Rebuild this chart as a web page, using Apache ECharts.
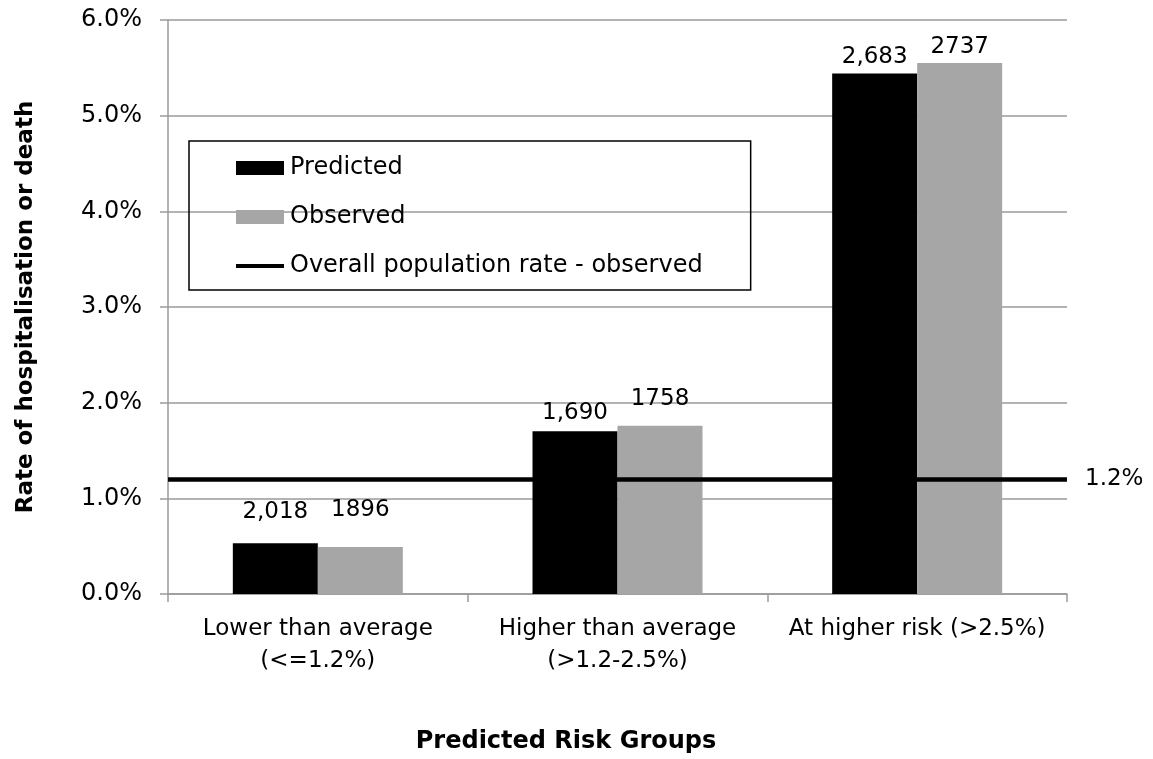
<!DOCTYPE html>
<html>
<head>
<meta charset="utf-8">
<script src="https://cdn.jsdelivr.net/npm/echarts@6/dist/echarts.min.js"></script>
<style>
  html, body { margin: 0; padding: 0; background: #ffffff; }
  #chart { width: 1153px; height: 759px; }
</style>
</head>
<body>
<div id="chart"></div>
<script>
// ---- Data ----
const categories = ['Lower than average\n(<=1.2%)', 'Higher than average\n(>1.2-2.5%)', 'At higher risk (>2.5%)'];
const predicted = [0.53, 1.70, 5.44];
const observed = [0.49, 1.76, 5.55];
const predictedLabels = ['2,018', '1,690', '2,683'];
const observedLabels = ['1896', '1758', '2737'];
const overallRate = 1.2;
const overallRateLabel = '1.2%';
const yTicks = { min: 0, max: 6, interval: 1 };

// ---- Styling ----
const FONT = 'DejaVu Sans';
const predLift = [20, 7, 5];
const obsLift = [26, 15, 5];

const chart = echarts.init(document.getElementById('chart'), null, { renderer: 'canvas' });

const option = {
  animation: false,
  backgroundColor: '#ffffff',
  textStyle: { fontFamily: FONT, color: '#000' },
  grid: { left: 168, right: 86, top: 20, bottom: 165, containLabel: false },
  legend: {
    orient: 'vertical',
    left: 189,
    top: 141,
    padding: [15, 48, 12, 47],
    itemGap: 25,
    itemWidth: 48,
    itemHeight: 14,
    borderColor: '#000',
    borderWidth: 1.5,
    selectedMode: false,
    textStyle: { fontFamily: FONT, fontSize: 24, color: '#000', padding: [0, 0, 0, 1] },
    data: [
      { name: 'Predicted', icon: 'rect' },
      { name: 'Observed', icon: 'rect' },
      { name: 'Overall population rate - observed', icon: 'path://M0,0M0,5L48,5L48,9L0,9ZM48,14' }
    ]
  },
  xAxis: {
    type: 'category',
    data: categories,
    axisLine: { show: true, lineStyle: { color: '#9a9a9a', width: 1.5 } },
    axisTick: { show: true, inside: false, length: 8, alignWithLabel: false, lineStyle: { color: '#9a9a9a', width: 1.5 } },
    axisLabel: { interval: 0, fontFamily: FONT, fontSize: 23, lineHeight: 32, color: '#000', margin: 19 },
    splitLine: { show: false },
    name: 'Predicted Risk Groups',
    nameLocation: 'middle',
    nameGap: 136,
    nameTextStyle: { fontFamily: FONT, fontSize: 24, fontWeight: 'bold', color: '#000', padding: [0, 103, 0, 0] }
  },
  yAxis: {
    type: 'value',
    min: yTicks.min,
    max: yTicks.max,
    interval: yTicks.interval,
    axisLine: { show: true, lineStyle: { color: '#9a9a9a', width: 1.5 } },
    axisTick: { show: true, inside: false, length: 8, lineStyle: { color: '#9a9a9a', width: 1.5 } },
    axisLabel: { fontFamily: FONT, fontSize: 24, color: '#000', margin: 26, formatter: v => v.toFixed(1) + '%' },
    splitLine: { show: true, lineStyle: { color: '#9a9a9a', width: 1.5 } },
    name: 'Rate of hospitalisation or death',
    nameLocation: 'middle',
    nameRotate: 90,
    nameGap: 130,
    nameTextStyle: { fontFamily: FONT, fontSize: 23, fontWeight: 'bold', color: '#000' }
  },
  series: [
    {
      name: 'Predicted',
      type: 'bar',
      barWidth: 85,
      barGap: '0%',
      itemStyle: { color: '#000000' },
      data: predicted.map((v, i) => ({
        value: v,
        label: { show: true, position: 'top', distance: predLift[i], formatter: predictedLabels[i], fontFamily: FONT, fontSize: 23, color: '#000' }
      }))
    },
    {
      name: 'Observed',
      type: 'bar',
      barWidth: 85,
      barGap: '0%',
      itemStyle: { color: '#a6a6a6' },
      data: observed.map((v, i) => ({
        value: v,
        label: { show: true, position: 'top', distance: obsLift[i], formatter: observedLabels[i], fontFamily: FONT, fontSize: 23, color: '#000' }
      }))
    },
    {
      name: 'Overall population rate - observed',
      type: 'line',
      z: 5,
      symbol: 'none',
      showSymbol: false,
      lineStyle: { color: '#000', width: 4.5 },
      itemStyle: { color: '#000' },
      data: [],
      markLine: {
        silent: true,
        symbol: ['none', 'none'],
        lineStyle: { color: '#000', width: 4.5, type: 'solid' },
        label: { show: true, position: 'end', distance: 18, formatter: overallRateLabel, fontFamily: FONT, fontSize: 23, color: '#000' },
        emphasis: { disabled: true },
        data: [{ yAxis: overallRate }]
      }
    }
  ]
};

chart.setOption(option);
</script>
</body>
</html>
